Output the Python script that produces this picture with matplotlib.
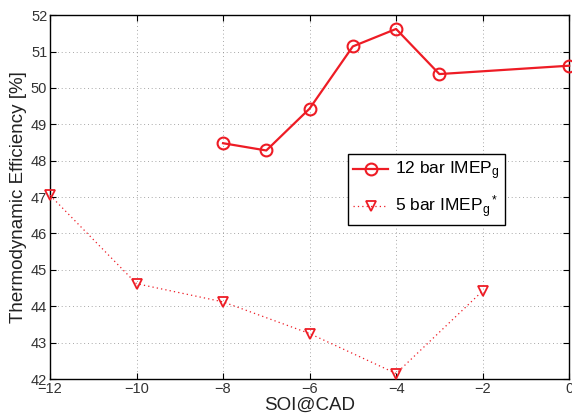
import numpy as np
import matplotlib
matplotlib.use("Agg")
import matplotlib.pyplot as plt

plt.rcParams['font.family'] = ['Liberation Sans', 'DejaVu Sans']
plt.rcParams['mathtext.fontset'] = 'custom'
plt.rcParams['mathtext.rm'] = 'Liberation Sans'
plt.rcParams['mathtext.it'] = 'Liberation Sans'

# data
soi_12 = [-8, -7, -6, -5, -4, -3, 0]
eff_12 = [48.48, 48.28, 49.43, 51.14, 51.62, 50.38, 50.61]
soi_5 = [-12, -10, -8, -6, -4, -2]
eff_5 = [47.05, 44.62, 44.12, 43.25, 42.15, 44.42]

fig = plt.figure(figsize=(5.72, 4.2), dpi=100)
ax = fig.add_axes([0.0874, 0.0976, 0.9076, 0.8664])

red = '#ee1c25'
ax.plot(soi_12, eff_12, '-o', color=red, lw=1.6, ms=8.5, mfc='none', mew=1.5,
        label='12 bar IMEP$_g$', clip_on=False, zorder=3)
ax.plot(soi_5, eff_5, ':v', color=red, lw=0.9, ms=7.5, mfc='none', mew=1.3,
        label='5 bar IMEP$_g$$^*$', clip_on=False, zorder=3)
ax.lines[1].set_dashes([1, 2.5])

ax.set_xlim(-12, 0)
ax.set_ylim(42, 52)
ax.set_xticks(np.arange(-12, 1, 2))
ax.set_yticks(np.arange(42, 53, 1))
ax.grid(True, ls=(0, (1, 3.5)), color='#8a8a8a', lw=0.6)
ax.tick_params(direction='in', top=True, right=True, labelsize=10.5,
               labelcolor='#333333', length=4, pad=2)
for s in ax.spines.values():
    s.set_linewidth(1.0)

ax.set_xlabel('SOI@CAD', fontsize=13.5, color='#222222', labelpad=1)
ax.set_ylabel('Thermodynamic Efficiency [%]', fontsize=13.5, color='#222222', labelpad=3)

leg = ax.legend(loc='upper left', bbox_to_anchor=(0.574, 0.617), fontsize=12.5,
                frameon=True, fancybox=False, edgecolor='black', framealpha=1,
                handlelength=2.0, borderpad=0.3, labelspacing=0.65,
                handletextpad=0.4, borderaxespad=0)
leg.get_frame().set_linewidth(1.0)

fig.savefig('out.png', dpi=100)
